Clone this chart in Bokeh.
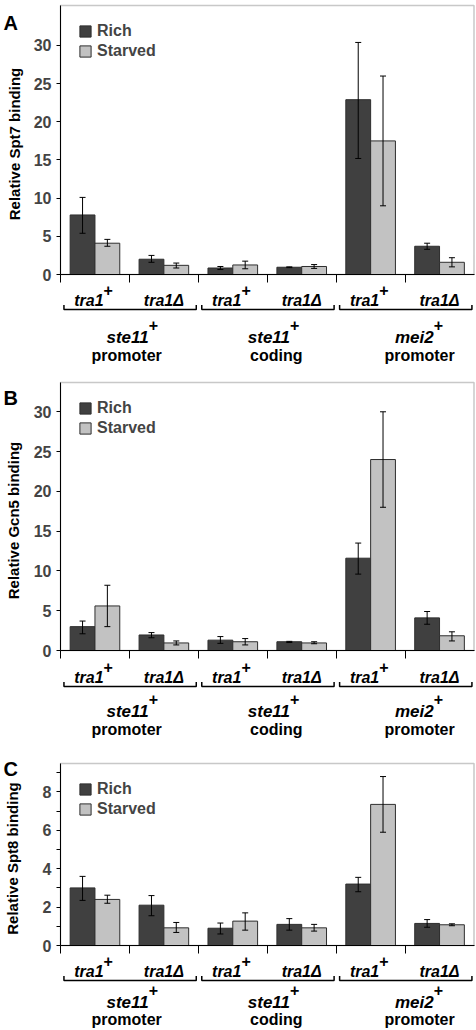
import numpy as np
from bokeh.plotting import figure
from bokeh.models import (Range1d, ColumnDataSource, Whisker, TeeHead, LinearAxis,
                          FixedTicker, BoxAnnotation)
from bokeh.core.properties import value
from bokeh.layouts import column
from bokeh.embed import file_html
from bokeh.resources import INLINE

# ---------------- data ----------------
series = ["Rich", "Starved"]
cat_names = ["tra1", "tra1Δ", "tra1", "tra1Δ", "tra1", "tra1Δ"]
cat_sup = ["+", "", "+", "", "+", ""]
group_names = ["ste11", "ste11", "mei2"]
group_sup = ["+", "+", "+"]
group_regions = ["promoter", "coding", "promoter"]

yticks_ab = [0, 5, 10, 15, 20, 25, 30]
yticks_c = [0, 2, 4, 6, 8]
yticks_c_minor = [1, 3, 5, 7, 9]

# Panel A: Spt7
rich_a = [7.8, 2.0, 0.85, 0.95, 22.9, 3.7]
rich_a_lo = [5.4, 1.6, 0.65, 0.9, 15.2, 3.3]
rich_a_hi = [10.1, 2.5, 1.05, 1.0, 30.4, 4.1]
starved_a = [4.1, 1.2, 1.25, 1.05, 17.5, 1.6]
starved_a_lo = [3.7, 0.85, 0.75, 0.8, 9.0, 1.0]
starved_a_hi = [4.6, 1.5, 1.75, 1.3, 26.0, 2.2]

# Panel B: Gcn5
rich_b = [3.0, 1.95, 1.3, 1.1, 11.6, 4.1]
rich_b_lo = [2.1, 1.6, 0.9, 1.0, 9.6, 3.3]
rich_b_hi = [3.7, 2.25, 1.75, 1.15, 13.5, 4.9]
starved_b = [5.6, 0.95, 1.1, 0.95, 24.0, 1.85]
starved_b_lo = [3.0, 0.7, 0.7, 0.85, 18.0, 1.2]
starved_b_hi = [8.2, 1.2, 1.5, 1.1, 30.0, 2.35]

# Panel C: Spt8
rich_c = [3.0, 2.1, 0.9, 1.1, 3.2, 1.15]
rich_c_lo = [2.35, 1.55, 0.6, 0.8, 2.8, 0.95]
rich_c_hi = [3.6, 2.6, 1.17, 1.4, 3.55, 1.35]
starved_c = [2.4, 0.92, 1.27, 0.92, 7.35, 1.08]
starved_c_lo = [2.2, 0.68, 0.8, 0.75, 5.9, 1.03]
starved_c_hi = [2.62, 1.2, 1.7, 1.1, 8.8, 1.13]

# ---------------- style / layout ----------------
FONT = "Liberation Sans"
RICH_COLOR = "#404040"
STARVED_COLOR = "#c2c2c2"
EDGE = "#2e2e2e"
FIG_W = 476
AXIS_PX = 60          # px from figure left to the value axis
RIGHT_PX = 2.5        # px right of the last category
N = 6
GROUP_NAME_RIGHT = [0.28, 0.33, 0.415]
GROUP_REGION_CENTER = [-0.04, 0.13, 0.21]


def make_panel(letter, ylabel, ytop, plot_h, top_px, bot_px, ticks, minor_ticks,
               rich, rich_lo, rich_hi, starved, starved_lo, starved_hi,
               letter_dy, ylabel_px, offs):
    H = top_px + plot_h + bot_px
    ppu = plot_h / ytop                       # px per y unit
    ppx = (FIG_W - AXIS_PX - RIGHT_PX) / N    # px per category
    xr = Range1d(-AXIS_PX / ppx, N + RIGHT_PX / ppx)
    yr = Range1d(-bot_px / ppu, ytop + top_px / ppu)
    p = figure(width=FIG_W, height=H, x_range=xr, y_range=yr,
               output_backend="svg", toolbar_location=None, title=None,
               x_axis_location=None, y_axis_location=None,
               min_border=0, min_border_left=0, min_border_right=0,
               min_border_top=0, min_border_bottom=0)
    p.outline_line_color = None
    p.xgrid.visible = False
    p.ygrid.visible = False
    p.background_fill_color = "white"
    p.border_fill_color = "white"

    # plot-area box
    p.add_layout(BoxAnnotation(left=0, right=N, bottom=0, top=ytop,
                               fill_alpha=0, line_color="#4a4a4a", line_width=1.5,
                               level="underlay"))

    xc = np.arange(len(rich)) + 0.5
    src_r = ColumnDataSource(dict(x=xc - 0.18, top=rich, lo=rich_lo, hi=rich_hi))
    src_s = ColumnDataSource(dict(x=xc + 0.18, top=starved, lo=starved_lo, hi=starved_hi))
    p.vbar(x="x", top="top", width=0.36, bottom=0, source=src_r,
           fill_color=RICH_COLOR, line_color=EDGE, line_width=1, legend_label=series[0])
    p.vbar(x="x", top="top", width=0.36, bottom=0, source=src_s,
           fill_color=STARVED_COLOR, line_color=EDGE, line_width=1, legend_label=series[1])
    for src in (src_r, src_s):
        p.add_layout(Whisker(source=src, base="x", upper="hi", lower="lo",
                             line_color="black", line_width=1, level="annotation",
                             upper_head=TeeHead(size=6, line_color="black", line_width=1),
                             lower_head=TeeHead(size=6, line_color="black", line_width=1)))

    # value axis
    ya = LinearAxis(fixed_location=0, bounds=(0, ytop),
                    ticker=FixedTicker(ticks=ticks, minor_ticks=minor_ticks))
    ya.major_label_text_font = FONT
    ya.major_label_text_font_style = "bold"
    ya.major_label_text_font_size = "16px"
    ya.major_label_standoff = 5
    ya.major_tick_out = 4
    ya.major_tick_in = 0
    ya.axis_line_color = "black"
    ya.major_tick_line_color = "black"
    ya.minor_tick_out = 4
    ya.minor_tick_in = 0
    ya.minor_tick_line_color = "black"
    p.add_layout(ya, "left")

    # category axis line with boundary ticks
    xa = LinearAxis(fixed_location=0, bounds=(0, N),
                    ticker=FixedTicker(ticks=list(range(N))))
    xa.major_label_overrides = {i: "" for i in range(N)}
    xa.major_tick_out = 8
    xa.major_tick_in = 0
    xa.axis_line_color = "black"
    xa.major_tick_line_color = "black"
    xa.minor_tick_line_color = None
    p.add_layout(xa, "below")

    # legend
    lg = p.legend[0]
    legend_h = 38
    lg.location = (AXIS_PX + 18, H - (top_px + 17) - legend_h)
    lg.margin = 0
    lg.padding = 0
    lg.spacing = 2
    lg.border_line_alpha = 0
    lg.background_fill_alpha = 0
    lg.glyph_width = 14
    lg.glyph_height = 14
    lg.label_height = 18
    lg.label_standoff = 5
    lg.label_text_font = FONT
    lg.label_text_font_style = "bold"
    lg.label_text_font_size = "16px"

    def txt(xs, ypx, texts, align, baseline, size, style):
        p.text(x=list(xs), y=[-ypx / ppu] * len(xs), text=list(texts),
               text_align=align, text_baseline=baseline,
               text_font=value(FONT), text_font_size=f"{size}px",
               text_font_style=style, text_color="black")

    cat_base, brk, grp_base, reg_base = offs

    # category labels
    sup_idx = [i for i, s in enumerate(cat_sup) if s]
    plain_idx = [i for i, s in enumerate(cat_sup) if not s]
    txt([i + 0.5 + 0.125 for i in sup_idx], cat_base, [cat_names[i] for i in sup_idx],
        "right", "alphabetic", 16, "bold italic")
    txt([i + 0.5 + 0.125 for i in sup_idx], cat_base - 10.5, [cat_sup[i] for i in sup_idx],
        "left", "middle", 16, "bold")
    txt([i + 0.5 for i in plain_idx], cat_base, [cat_names[i] for i in plain_idx],
        "center", "alphabetic", 16, "bold italic")

    # group brackets
    xs_b, ys_b = [], []
    yb, yt = -brk / ppu, -(brk - 4.5) / ppu
    for g in range(len(group_names)):
        x0, x1 = 2 * g + 0.05, 2 * g + 1.97
        xs_b.append([x0, x0, x1, x1])
        ys_b.append([yt, yb, yb, yt])
    p.multi_line(xs=xs_b, ys=ys_b, line_color="black", line_width=1.5)

    gcs = [2 * g + 1 for g in range(len(group_names))]
    name_x = [gc + d for gc, d in zip(gcs, GROUP_NAME_RIGHT)]
    txt(name_x, grp_base, group_names, "right", "alphabetic", 17, "bold italic")
    txt(name_x, grp_base - 12.5, group_sup, "left", "middle", 16, "bold")
    txt([gc + d for gc, d in zip(gcs, GROUP_REGION_CENTER)], reg_base, group_regions,
        "center", "alphabetic", 16, "bold")

    # y-axis title (rotated)
    p.text(x=[(ylabel_px - AXIS_PX) / ppx], y=[ytop / 2 - 4 / ppu], text=[ylabel],
           angle=np.pi / 2, text_align="center", text_baseline="middle",
           text_font=value(FONT), text_font_size="15px", text_font_style="bold",
           text_color="black")

    # panel letter
    p.text(x=[(3 - AXIS_PX) / ppx], y=[ytop - letter_dy / ppu], text=[letter],
           text_align="left", text_baseline="alphabetic",
           text_font=value(FONT), text_font_size="20px", text_font_style="bold",
           text_color="black")
    return p


pa = make_panel("A", "Relative Spt7 binding", 35.24, 269, 5, 102,
                yticks_ab, [],
                rich_a, rich_a_lo, rich_a_hi, starved_a, starved_a_lo, starved_a_hi,
                17, 14, (26, 35, 63, 81))
pb = make_panel("B", "Relative Gcn5 binding", 33.68, 268, 6, 102,
                yticks_ab, [],
                rich_b, rich_b_lo, rich_b_hi, starved_b, starved_b_lo, starved_b_hi,
                15, 13, (27, 36, 61, 79))
pc = make_panel("C", "Relative Spt8 binding", 9.48, 182, 11, 85,
                yticks_c, yticks_c_minor,
                rich_c, rich_c_lo, rich_c_hi, starved_c, starved_c_lo, starved_c_hi,
                5, 12, (26, 35, 57, 74))

layout = column(pa, pb, pc, spacing=0)
open("out.html", "w").write(file_html(layout, INLINE))
